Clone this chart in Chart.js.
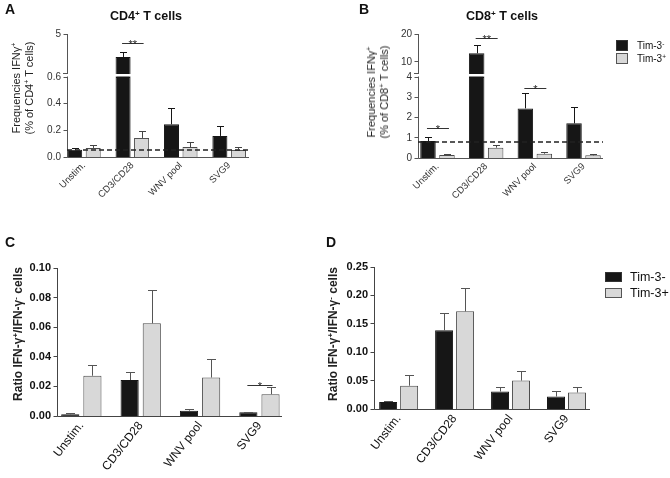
<!DOCTYPE html>
<html>
<head>
<meta charset="utf-8">
<script src="https://cdn.jsdelivr.net/npm/chart.js@4.4.1/dist/chart.umd.min.js"></script>
<style>
  body { margin: 0; background: #fff; font-family: 'Liberation Sans', Arial, sans-serif; }
  #fig { position: relative; width: 670px; height: 478px; overflow: hidden; }
  canvas { position: absolute; }
  .lbl { position: absolute; color: #111; white-space: nowrap; line-height: 1; }
  .letter { font-weight: bold; font-size: 14px; }
  .title { font-weight: bold; font-size: 12.5px; transform: translateX(-50%); }
  .ytitle { position: absolute; color: #222; white-space: nowrap; text-align: center; transform: translate(-50%, -50%) rotate(-90deg); }
  sup { font-size: 65%; vertical-align: 0.5em; line-height: 0; }
  .key { position: absolute; box-sizing: border-box; border: 1px solid #333; }
</style>
</head>
<body>
<div id="fig">
  <canvas id="chartA" width="335" height="230" style="left:0;top:0"></canvas>
  <canvas id="chartB" width="335" height="230" style="left:335px;top:0"></canvas>
  <canvas id="chartC" width="335" height="248" style="left:0;top:230px"></canvas>
  <canvas id="chartD" width="335" height="248" style="left:335px;top:230px"></canvas>

  <div class="lbl letter" style="left:5px;top:2px">A</div>
  <div class="lbl title" style="left:146px;top:10px">CD4<sup>+</sup> T cells</div>
  <div class="ytitle" style="left:23px;top:88px;font-size:11px;line-height:13px">Frequencies IFNγ<sup>+</sup><br>(% of CD4<sup>+</sup> T cells)</div>

  <div class="lbl letter" style="left:359px;top:2px">B</div>
  <div class="lbl title" style="left:502px;top:10px">CD8<sup>+</sup> T cells</div>
  <div class="ytitle" style="left:378px;top:92px;font-size:11px;line-height:13px">Frequencies IFNγ<sup>+</sup><br>(% of CD8<sup>+</sup> T cells)</div>
  <div class="key" style="left:616px;top:40px;width:12px;height:11px;background:#161616"></div>
  <div class="key" style="left:616px;top:53px;width:12px;height:11px;background:#d8d8d8;border-color:#555"></div>
  <div class="lbl" style="left:637px;top:41px;font-size:10px">Tim-3<sup>-</sup></div>
  <div class="lbl" style="left:637px;top:54px;font-size:10px">Tim-3<sup>+</sup></div>

  <div class="lbl letter" style="left:5px;top:235px">C</div>
  <div class="ytitle" style="left:18px;top:334px;font-size:12px;font-weight:bold">Ratio IFN-γ<sup>+</sup>/IFN-γ<sup>-</sup> cells</div>

  <div class="lbl letter" style="left:326px;top:235px">D</div>
  <div class="ytitle" style="left:333px;top:334px;font-size:12px;font-weight:bold">Ratio IFN-γ<sup>+</sup>/IFN-γ<sup>-</sup> cells</div>
  <div class="key" style="left:605px;top:272px;width:17px;height:10px;background:#161616"></div>
  <div class="key" style="left:605px;top:288px;width:17px;height:10px;background:#d8d8d8;border-color:#555"></div>
  <div class="lbl" style="left:630px;top:271px;font-size:12.5px">Tim-3-</div>
  <div class="lbl" style="left:630px;top:287px;font-size:12.5px">Tim-3+</div>
</div>

<script>
const groups = ['Unstim.', 'CD3/CD28', 'WNV pool', 'SVG9'];

// A: CD4+ T cells, % IFNg+ (axis broken at 0.6)
const cd4Neg = [0.055, 2.65, 0.245, 0.158];
const cd4NegErr = [0.015, 0.5, 0.125, 0.077];
const cd4Pos = [0.068, 0.143, 0.075, 0.053];
const cd4PosErr = [0.022, 0.052, 0.038, 0.024];
const cd4Cutoff = 0.05;
const cd4TicksLow = [0, 0.2, 0.4, 0.6];
const cd4TicksHigh = [5];
const cd4Sig = [{ i: 1, text: '**', y: 4.08 }];

// B: CD8+ T cells, % IFNg+ (axis broken at 4)
const cd8Neg = [0.84, 13.1, 2.45, 1.71];
const cd8NegErr = [0.21, 2.9, 0.75, 0.8];
const cd8Pos = [0.15, 0.51, 0.21, 0.13];
const cd8PosErr = [0.04, 0.13, 0.09, 0.06];
const cd8Cutoff = 0.8;
const cd8TicksLow = [0, 1, 2, 3, 4];
const cd8TicksHigh = [10, 20];
const cd8Sig = [{ i: 0, text: '*', y: 1.5 }, { i: 1, text: '**', y: 18.6 }, { i: 2, text: '*', y: 3.45 }];

// C: ratio IFNg+/IFNg- (CD4)
const ratioCNeg = [0.0011, 0.0243, 0.0036, 0.0025];
const ratioCNegErr = [0.0007, 0.0052, 0.0011, 0.0005];
const ratioCPos = [0.0272, 0.0626, 0.026, 0.0147];
const ratioCPosErr = [0.0075, 0.0222, 0.0122, 0.0047];
const ratioCTicks = [0, 0.02, 0.04, 0.06, 0.08, 0.1];
const ratioCSig = [{ i: 3, text: '*', y: 0.0212 }];

// D: ratio IFNg+/IFNg- (CD8)
const ratioDNeg = [0.0122, 0.1386, 0.0308, 0.022];
const ratioDNegErr = [0.0011, 0.031, 0.0077, 0.009];
const ratioDPos = [0.041, 0.1719, 0.05, 0.029];
const ratioDPosErr = [0.018, 0.0414, 0.0175, 0.0095];
const ratioDTicks = [0, 0.05, 0.1, 0.15, 0.2, 0.25];

const FONT = "'Liberation Sans', Arial, sans-serif";

function barChart(id, o) {
  const series = [
    { key: 'neg', vals: o.neg, err: o.negErr, fill: '#161616', line: '#161616', errColor: o.errNeg },
    { key: 'pos', vals: o.pos, err: o.posErr, fill: '#d8d8d8', line: '#4a4a4a', errColor: o.errPos },
  ];
  const datasets = [];
  series.forEach((s) => {
    s.ds = datasets.length;
    datasets.push({
      label: s.key, stack: s.key, yAxisID: 'y',
      data: s.vals.map((v, i) => ({ x: i, y: o.high ? Math.min(v, o.low.max) : v })),
      backgroundColor: s.fill, borderColor: s.line, borderWidth: 1,
    });
    if (o.high) {
      // part of the bar above the break, on the upper segment
      datasets.push({
        label: s.key + ' upper', stack: s.key, yAxisID: 'y2',
        data: s.vals.map((v, i) => ({ x: i, y: [o.high.min, v] })).filter((d) => d.y[1] > o.low.max),
        backgroundColor: s.fill, borderColor: s.line, borderWidth: 1,
      });
    }
  });

  const yScale = (seg) => ({
    type: 'linear', position: 'left', stacked: false,
    min: seg.min, max: seg.max,
    stack: o.high ? 'v' : undefined, stackWeight: seg.weight || 1,
    afterBuildTicks: (s) => { s.ticks = seg.ticks.map((v) => ({ value: v })); },
    afterFit: (s) => { s.width = o.yWidth; },
    grid: { display: false, drawTicks: false },
    border: { display: false },
    ticks: { color: o.tickColor, font: o.yFont, padding: 6, callback: seg.fmt },
  });

  const scales = {
    x: {
      type: 'linear', min: o.xMin, max: o.xMax, offset: false,
      afterBuildTicks: (s) => { s.ticks = groups.map((g, i) => ({ value: i })); },
      afterFit: (s) => { s.height = o.xHeight; },
      grid: { display: false, drawTicks: false, offset: false },
      border: { display: false },
      ticks: {
        autoSkip: false, maxRotation: o.rot, minRotation: o.rot, padding: o.xPad,
        color: o.tickColor, font: o.xFont, callback: (v) => groups[v],
      },
    },
    y: yScale(o.low),
  };
  if (o.high) scales.y2 = yScale(o.high);

  const marks = {
    id: 'marks',
    afterDatasetsDraw(chart) {
      const { ctx, chartArea: ca } = chart;
      const low = chart.scales.y;
      const high = chart.scales.y2;
      const py = (v) => (high && v > o.low.max ? high.getPixelForValue(v) : low.getPixelForValue(v));
      const barX = (s, i) => chart.getDatasetMeta(s.ds).data[i].x;
      ctx.save();
      ctx.setLineDash([]);
      // axis lines and tick marks, placed from the chart's own scales
      const xl = Math.floor(ca.left) + 0.5;
      const yb = Math.floor(ca.bottom) + 0.5;
      ctx.strokeStyle = o.axisColor;
      ctx.lineWidth = 1;
      ctx.beginPath();
      ctx.moveTo(xl, ca.top);
      ctx.lineTo(xl, yb);
      ctx.lineTo(ca.right, yb);
      [low, high].forEach((s) => {
        if (!s) return;
        s.ticks.forEach((t) => {
          const y = Math.floor(s.getPixelForValue(t.value)) + 0.5;
          ctx.moveTo(xl - 4, y);
          ctx.lineTo(xl, y);
        });
      });
      ctx.stroke();

      if (o.cutoff !== undefined) {
        const y = Math.round(low.getPixelForValue(o.cutoff));
        ctx.setLineDash([5, 3]);
        ctx.lineWidth = 1.6;
        ctx.strokeStyle = '#222';
        ctx.beginPath();
        ctx.moveTo(ca.left, y);
        ctx.lineTo(ca.right, y);
        ctx.stroke();
        ctx.setLineDash([]);
      }
      if (high) {
        const ybk = high.bottom;
        ctx.fillStyle = '#fff';
        ctx.fillRect(ca.left - 5, ybk - 3, ca.right - ca.left + 5, 2.5);
        ctx.strokeStyle = o.axisColor;
        ctx.lineWidth = 1;
        ctx.beginPath();
        ctx.moveTo(ca.left - 4, Math.round(ybk - 3) - 0.5);
        ctx.lineTo(ca.left + 1, Math.round(ybk - 3) - 0.5);
        ctx.stroke();
      }
      series.forEach((s) => {
        ctx.strokeStyle = s.errColor;
        ctx.lineWidth = 1;
        s.vals.forEach((v, i) => {
          const x = Math.round(barX(s, i)) + 0.5;
          const y0 = py(v);
          const y1 = Math.round(py(v + s.err[i])) + 0.5;
          ctx.beginPath();
          ctx.moveTo(x, y0);
          ctx.lineTo(x, y1);
          ctx.moveTo(x - o.cap / 2, y1);
          ctx.lineTo(x + o.cap / 2, y1);
          ctx.stroke();
        });
      });
      (o.sig || []).forEach((m) => {
        const x1 = barX(series[0], m.i) - 1;
        const x2 = barX(series[1], m.i) + 2;
        const y = Math.round(py(m.y)) + 0.5;
        ctx.strokeStyle = '#333';
        ctx.lineWidth = 1;
        ctx.beginPath();
        ctx.moveTo(x1, y);
        ctx.lineTo(x2, y);
        ctx.stroke();
        ctx.fillStyle = '#222';
        ctx.font = '11px ' + FONT;
        ctx.textAlign = 'center';
        ctx.textBaseline = 'alphabetic';
        ctx.fillText(m.text, (x1 + x2) / 2, y + 4);
      });
      ctx.restore();
    },
  };

  return new Chart(document.getElementById(id), {
    type: 'bar',
    data: { datasets },
    options: {
      responsive: false,
      animation: false,
      layout: { padding: { top: o.padTop, right: o.padRight, left: 0, bottom: 0 } },
      plugins: { legend: { display: false }, tooltip: { enabled: false } },
      datasets: { bar: { categoryPercentage: o.catPct, barPercentage: o.barPct } },
      scales,
    },
    plugins: [marks],
  });
}

const smallX = { size: 9.5, family: FONT };
const smallY = { size: 10, family: FONT };
const bigX = { size: 12, family: FONT };
const bigY = { size: 11, family: FONT, weight: 'bold' };

barChart('chartA', {
  neg: cd4Neg, negErr: cd4NegErr, pos: cd4Pos, posErr: cd4PosErr,
  cutoff: cd4Cutoff, sig: cd4Sig,
  low: { min: 0, max: 0.6, ticks: cd4TicksLow, weight: 80, fmt: (v) => v.toFixed(1) },
  high: { min: 0.6, max: 5, ticks: cd4TicksHigh, weight: 43, fmt: (v) => String(v) },
  yWidth: 67, padTop: 34, padRight: 86, xHeight: 73, xMin: -0.35, xMax: 3.41,
  catPct: 0.766, barPct: 0.81, cap: 7, rot: 45, xPad: 3,
  axisColor: '#555', tickColor: '#333', xFont: smallX, yFont: smallY,
  errNeg: '#161616', errPos: '#444',
});

barChart('chartB', {
  neg: cd8Neg, negErr: cd8NegErr, pos: cd8Pos, posErr: cd8PosErr,
  cutoff: cd8Cutoff, sig: cd8Sig,
  low: { min: 0, max: 4, ticks: cd8TicksLow, weight: 81, fmt: (v) => String(v) },
  high: { min: 4.6, max: 20, ticks: cd8TicksHigh, weight: 43, fmt: (v) => String(v) },
  yWidth: 83, padTop: 34, padRight: 67, xHeight: 72, xMin: -0.4, xMax: 3.4,
  catPct: 0.78, barPct: 0.816, cap: 7, rot: 45, xPad: 3,
  axisColor: '#555', tickColor: '#333', xFont: smallX, yFont: smallY,
  errNeg: '#161616', errPos: '#444',
});

barChart('chartC', {
  neg: ratioCNeg, negErr: ratioCNegErr, pos: ratioCPos, posErr: ratioCPosErr,
  sig: ratioCSig,
  low: { min: 0, max: 0.1, ticks: ratioCTicks, fmt: (v) => v.toFixed(2) },
  yWidth: 57, padTop: 38, padRight: 53, xHeight: 62, xMin: -0.41, xMax: 3.38,
  catPct: 0.746, barPct: 0.82, cap: 9, rot: 52, xPad: 3,
  axisColor: '#444', tickColor: '#111', xFont: bigX, yFont: bigY,
  errNeg: '#555', errPos: '#555',
});

barChart('chartD', {
  neg: ratioDNeg, negErr: ratioDNegErr, pos: ratioDPos, posErr: ratioDPosErr,
  low: { min: 0, max: 0.25, ticks: ratioDTicks, fmt: (v) => v.toFixed(2) },
  yWidth: 39, padTop: 37, padRight: 80, xHeight: 69, xMin: -0.44, xMax: 3.42,
  catPct: 0.75, barPct: 0.857, cap: 9, rot: 52, xPad: 3,
  axisColor: '#444', tickColor: '#111', xFont: bigX, yFont: bigY,
  errNeg: '#555', errPos: '#555',
});
</script>
</body>
</html>
